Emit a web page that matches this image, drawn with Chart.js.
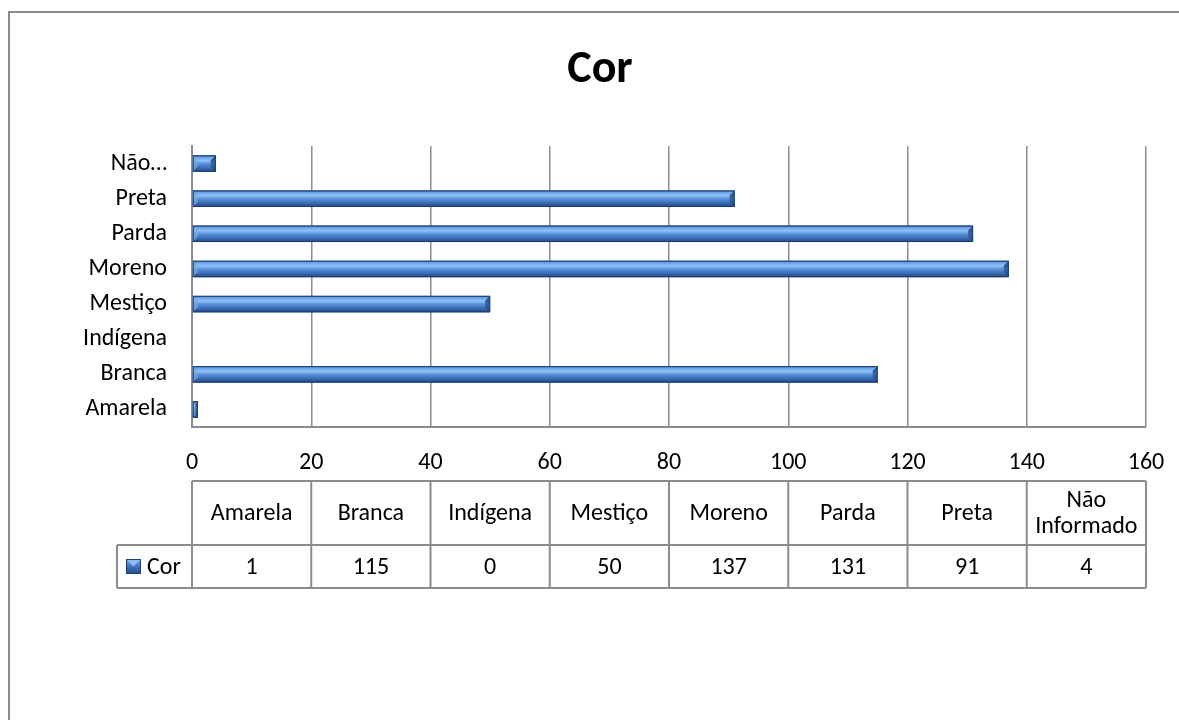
<!DOCTYPE html>
<html>
<head>
<meta charset="utf-8">
<title>Cor</title>
<script src="https://cdn.jsdelivr.net/npm/chart.js@4.4.1/dist/chart.umd.min.js"></script>
<style>
  html, body { margin: 0; padding: 0; background: #ffffff; }
  #wrap { width: 1179px; height: 720px; position: relative; }
</style>
</head>
<body>
<div id="wrap"><canvas id="chart"></canvas></div>
<script>
// Categories and counts per category
const categories = ['Amarela', 'Branca', 'Indígena', 'Mestiço', 'Moreno', 'Parda', 'Preta', 'Não Informado'];
const corValues = [1, 115, 0, 50, 137, 131, 91, 4];
const seriesName = 'Cor';
const chartTitle = 'Cor';
const axisMin = 0;
const axisMax = 160;
const axisStep = 20;

const FONT = 'Carlito, Lato, "Open Sans", sans-serif';
const TEXT_SIZE = 24;
const GRID = '#8c8c8c';

// Short form of a long category name for the axis: first word plus ellipsis
function shortLabel(label) {
  return label.indexOf(' ') > 0 ? label.split(' ')[0] + '…' : label;
}

// White page, outer frame and title
const framePlugin = {
  id: 'frame',
  beforeDraw(chart) {
    const ctx = chart.ctx;
    ctx.save();
    ctx.fillStyle = '#ffffff';
    ctx.fillRect(0, 0, chart.width, chart.height);
    ctx.strokeStyle = '#8c8c8c';
    ctx.lineWidth = 2;
    ctx.strokeRect(9, 12, chart.width + 20, chart.height + 20);
    ctx.restore();
  },
  afterDraw(chart) {
    const ctx = chart.ctx;
    ctx.save();
    ctx.fillStyle = '#000000';
    ctx.font = 'bold 46px ' + FONT;
    ctx.textAlign = 'center';
    ctx.textBaseline = 'alphabetic';
    ctx.fillText(chartTitle, 600, 82);
    ctx.restore();
  }
};

// Soft drop shadow under the bars
const shadowPlugin = {
  id: 'barShadow',
  beforeDatasetDraw(chart) {
    const ctx = chart.ctx;
    ctx.save();
    ctx.shadowColor = 'rgba(0,0,0,0.4)';
    ctx.shadowBlur = 6;
    ctx.shadowOffsetX = 2;
    ctx.shadowOffsetY = 3;
  },
  afterDatasetDraw(chart) {
    chart.ctx.restore();
  }
};

// Bevelled face on each bar
const bevelPlugin = {
  id: 'bevel',
  afterDatasetsDraw(chart) {
    const ctx = chart.ctx;
    chart.getDatasetMeta(0).data.forEach((el) => {
      const left = Math.min(el.base, el.x);
      const right = Math.max(el.base, el.x);
      const w = right - left;
      if (w < 1) return;
      const top = el.y - el.height / 2;
      const bottom = el.y + el.height / 2;
      const h = el.height;
      const g = ctx.createLinearGradient(0, top, 0, bottom);
      g.addColorStop(0, '#3a6cb2');
      g.addColorStop(0.12, '#6aa3e8');
      g.addColorStop(0.32, '#8fc1f6');
      g.addColorStop(0.5, '#5a93dc');
      g.addColorStop(0.72, '#3f73bb');
      g.addColorStop(0.88, '#2d5a9a');
      g.addColorStop(1, '#224880');
      ctx.save();
      ctx.fillStyle = g;
      ctx.fillRect(left, top, w, h);
      const b = Math.min(5, w / 2, h / 2);
      // right end facet: dark diagonal bevel
      const fg = ctx.createLinearGradient(0, top, 0, bottom);
      fg.addColorStop(0, '#23497f');
      fg.addColorStop(0.5, '#3566a8');
      fg.addColorStop(1, '#1f4276');
      ctx.beginPath();
      ctx.moveTo(right, top);
      ctx.lineTo(right - b, top + b);
      ctx.lineTo(right - b, bottom - b);
      ctx.lineTo(right, bottom);
      ctx.closePath();
      ctx.fillStyle = fg;
      ctx.fill();
      // left end facet
      ctx.beginPath();
      ctx.moveTo(left, top);
      ctx.lineTo(left + b, top + b);
      ctx.lineTo(left + b, bottom - b);
      ctx.lineTo(left, bottom);
      ctx.closePath();
      ctx.fillStyle = 'rgba(120,170,230,0.7)';
      ctx.fill();
      ctx.strokeStyle = '#1d3f72';
      ctx.lineWidth = 1;
      ctx.strokeRect(left + 0.5, top + 0.5, w - 1, h - 1);
      ctx.restore();
    });
  }
};

// Data table under the axis, columns follow the plot area
const tablePlugin = {
  id: 'dataTable',
  afterDraw(chart) {
    const ctx = chart.ctx;
    const area = chart.chartArea;
    const n = categories.length;
    const colW = (area.right - area.left) / n;
    const yTop = 481, yMid = 545, yBot = 588;
    const keyLeft = 117;
    ctx.save();
    ctx.strokeStyle = GRID;
    ctx.lineWidth = 2;
    ctx.beginPath();
    ctx.moveTo(area.left, yTop); ctx.lineTo(area.right, yTop);
    ctx.moveTo(keyLeft, yMid); ctx.lineTo(area.right, yMid);
    ctx.moveTo(keyLeft, yBot); ctx.lineTo(area.right, yBot);
    ctx.moveTo(keyLeft, yMid); ctx.lineTo(keyLeft, yBot);
    for (let i = 0; i <= n; i++) {
      const x = area.left + i * colW;
      ctx.moveTo(x, yTop); ctx.lineTo(x, yBot);
    }
    ctx.stroke();

    ctx.fillStyle = '#000000';
    ctx.font = TEXT_SIZE + 'px ' + FONT;
    ctx.textAlign = 'center';
    ctx.textBaseline = 'middle';
    categories.forEach((cat, i) => {
      const cx = area.left + (i + 0.5) * colW;
      let lines = [cat];
      if (ctx.measureText(cat).width > colW - 4) lines = cat.split(' ');
      const lh = 26;
      const y0 = (yTop + yMid) / 2 - (lines.length - 1) * lh / 2 + 1;
      lines.forEach((ln, k) => ctx.fillText(ln, cx, y0 + k * lh));
      ctx.fillText(String(corValues[i]), cx, (yMid + yBot) / 2 + 1);
    });

    // legend key
    const kx = 126, ky = 559, ks = 15;
    const kg = ctx.createLinearGradient(0, ky, 0, ky + ks);
    kg.addColorStop(0, '#6ea5e8');
    kg.addColorStop(0.5, '#3f74bd');
    kg.addColorStop(1, '#234a83');
    ctx.fillStyle = kg;
    ctx.fillRect(kx, ky, ks, ks);
    ctx.fillStyle = '#8dbdf3';
    ctx.beginPath();
    ctx.moveTo(kx, ky); ctx.lineTo(kx + ks, ky); ctx.lineTo(kx + ks / 2, ky + ks / 2); ctx.closePath();
    ctx.fill();
    ctx.strokeStyle = '#1d3f72';
    ctx.lineWidth = 1;
    ctx.strokeRect(kx + 0.5, ky + 0.5, ks - 1, ks - 1);
    ctx.fillStyle = '#000000';
    ctx.textAlign = 'left';
    ctx.fillText(seriesName, 147, (yMid + yBot) / 2 + 1);
    ctx.restore();
  }
};

new Chart(document.getElementById('chart'), {
  type: 'bar',
  data: {
    labels: categories,
    datasets: [{
      label: seriesName,
      data: corValues,
      backgroundColor: '#4a7fc4',
      borderColor: '#1d3f72',
      borderWidth: 1,
      borderSkipped: false,
      categoryPercentage: 0.9,
      barPercentage: 0.52
    }]
  },
  options: {
    indexAxis: 'y',
    responsive: true,
    maintainAspectRatio: false,
    animation: false,
    devicePixelRatio: 1,
    layout: { padding: { top: 146, right: 33, bottom: 0, left: 0 } },
    plugins: {
      legend: { display: false },
      title: { display: false },
      tooltip: { enabled: false }
    },
    scales: {
      x: {
        min: axisMin,
        max: axisMax,
        ticks: {
          stepSize: axisStep,
          color: '#000000',
          font: { family: FONT, size: TEXT_SIZE },
          padding: 22,
          maxRotation: 0
        },
        grid: { color: GRID, lineWidth: 1.5, drawTicks: false },
        border: { display: true, color: GRID, width: 2 },
        afterFit(scale) {
          scale.height = 720 - 427;
          scale.paddingLeft = 0;
          scale.paddingRight = 0;
        }
      },
      y: {
        reverse: true,
        ticks: {
          color: '#000000',
          font: { family: FONT, size: TEXT_SIZE },
          padding: 25,
          callback(value) { return shortLabel(this.getLabelForValue(value)); }
        },
        grid: { display: false, drawTicks: false },
        border: { display: true, color: GRID, width: 2 },
        afterFit(scale) { scale.width = 192; }
      }
    }
  },
  plugins: [framePlugin, shadowPlugin, bevelPlugin, tablePlugin]
});
</script>
</body>
</html>
